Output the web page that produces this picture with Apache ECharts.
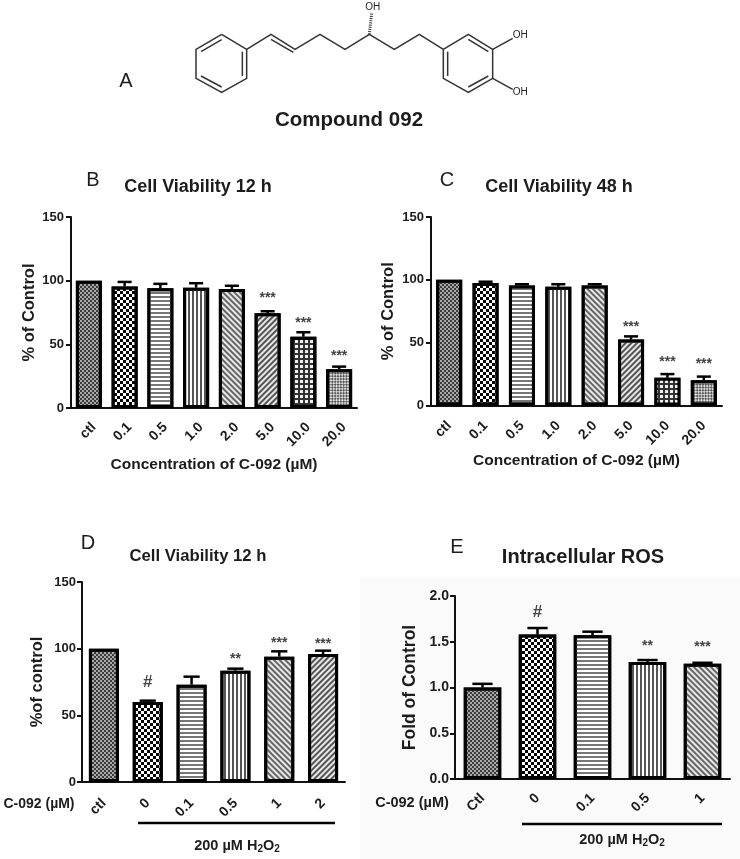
<!DOCTYPE html>
<html><head><meta charset="utf-8">
<style>html,body{margin:0;padding:0;background:#fff}#c{width:740px;height:859px;filter:blur(0.45px)}</style>
<script src="https://cdn.jsdelivr.net/npm/echarts@6/dist/echarts.min.js"></script>
</head><body><div id="c"></div>
<script>
// ---------- data ----------
const catsB = ['ctl','0.1','0.5','1.0','2.0','5.0','10.0','20.0'];
const valsB = [100,95.5,94,94.5,93.5,74.5,56,30.5];
const topsB = [100,99,97.5,98,96,76,59.5,32.5];
const sigB  = ['','','','','','***','***','***'];
const sigYB = [0,0,0,0,0,88,68.5,42.5];

const catsC = ['ctl','0.1','0.5','1.0','2.0','5.0','10.0','20.0'];
const valsC = [100,97.5,95.5,94.5,95.5,52.5,22,20];
const topsC = [100,98.5,96.5,96.5,96.5,55,25,23];
const sigC  = ['','','','','','***','***','***'];
const sigYC = [0,0,0,0,0,64,36,34.5];

const catsD = ['ctl','0','0.1','0.5','1','2'];
const valsD = [100,60,73,83.5,94,96];
const topsD = [100,61,79,85,98,98.5];
const sigD  = ['','#','','**','***','***'];
const sigYD = [0,74.5,0,94,105.5,105];

const catsE = ['Ctl','0','0.1','0.5','1'];
const valsE = [1.0,1.58,1.57,1.28,1.26];
const topsE = [1.04,1.65,1.61,1.30,1.27];
const sigE  = ['','#','','**','***'];
const sigYE = [0,1.82,0,1.47,1.46];

// ---------- patterns ----------
const FONT = '"Liberation Sans", Arial, sans-serif';
const INK = '#1c1c1c';
const patterns = {
  fine:   {color:'#3c3c3c', bg:'#a8a8a8', decal:{symbol:'rect', symbolSize:1, dashArrayX:[[2,2],[0,2,2,0]], dashArrayY:[2,0]}},
  check:  {color:'#000', bg:'#fff', decal:{symbol:'rect', symbolSize:1, dashArrayX:[[3,3],[0,3,3,0]], dashArrayY:[3,0]}},
  horiz:  {color:'#777', bg:'#fff', decal:{symbol:'rect', symbolSize:1, dashArrayX:[1,0], dashArrayY:[2,2]}},
  vert:   {color:'#555', bg:'#fff', decal:{symbol:'rect', symbolSize:1, dashArrayX:[2,2], dashArrayY:[1,0]}},
  up:     {color:'#666', bg:'#e8e8e8', decal:{symbol:'rect', symbolSize:1, dashArrayX:[1,0], dashArrayY:[1.4,1.6], rotation:Math.PI/4}},
  down:   {color:'#555', bg:'#e8e8e8', decal:{symbol:'rect', symbolSize:1, dashArrayX:[1,0], dashArrayY:[1.4,1.6], rotation:-Math.PI/4}},
  grid:   {color:'#f0f0f0', bg:'#333', decal:{symbol:'rect', symbolSize:1, dashArrayX:[2.4,1.6], dashArrayY:[2.4,1.6]}},
  dash:   {color:'#555', bg:'#e0e0e0', decal:{symbol:'rect', symbolSize:1, dashArrayX:[[2,2],[0,2,2,0]], dashArrayY:[2,0], rotation:Math.PI/4}}
};
const patB = ['fine','check','horiz','vert','up','down','grid','dash'];
const patD = ['fine','check','horiz','vert','up','down'];
const patE = ['fine','check','horiz','vert','up'];

// ---------- panels ----------
const panels = [
 {cats:catsB, vals:valsB, tops:topsB, sig:sigB, sigY:sigYB, pat:patB, left:71, top:217, w:286, h:191, max:150, step:50, barW:26, yName:'% of Control', yGap:33, xName:'Concentration of C-092 (\u00b5M)', xGap:49,
  title:'Cell Viability 12 h', tx:198, ty:187, tf:18, margin:12, vAlign:'top', ylm:7},
 {cats:catsC, vals:valsC, tops:topsC, sig:sigC, sigY:sigYC, pat:patB, left:431, top:217, w:291, h:188.5, max:150, step:50, barW:26, yName:'% of Control', yGap:34, xName:'Concentration of C-092 (\u00b5M)', xGap:47,
  title:'Cell Viability 48 h', tx:559, ty:187, tf:18, margin:18, ylm:7},
 {cats:catsD, vals:valsD, tops:topsD, sig:sigD, sigY:sigYD, pat:patD, left:82, top:582, w:263, h:200, max:150, step:50, barW:30, yName:'%of control', yGap:36, xName:'', xGap:0,
  title:'Cell Viability 12 h', tx:198, ty:556, tf:16.7, margin:19, ylm:6},
 {cats:catsE, vals:valsE, tops:topsE, sig:sigE, sigY:sigYE, pat:patE, left:455, top:596, w:275, h:183, max:2, step:0.5, barW:37.5, yName:'Fold of Control', yGap:36, xName:'', xGap:0,
  title:'Intracellular ROS', tx:583, ty:557, tf:20, margin:17, ylm:6, dec:1}
];

// ---------- molecule (zoomed reference units) ----------
const Z = p => [100 + p[0]/3, p[1]/3];
const molLines = [
 [[365,103],[440,148],[440,235],[365,277],[288,235],[288,148],[365,103]],
 [[365,119],[303,155]],[[427,155],[427,228]],[[365,261],[303,228]],
 [[440,148],[513,103],[585,148],[660,103],[735,148],[808,103],[883,148],[958,103],[1030,148]],
 [[513,118],[580,157]],
 [[1030,148],[1105,103],[1178,148],[1178,235],[1105,277],[1030,235],[1030,148]],
 [[1105,118],[1165,155]],[[1165,228],[1105,261]],[[1043,155],[1043,228]],
 [[1178,148],[1238,115]],[[1178,235],[1238,268]]
];
const molLabels = [['OH',818,22],['OH',1261,105],['OH',1261,277]];

const graphic = [];
graphic.push({type:'rect', z:-10, shape:{x:360,y:578,width:380,height:281}, style:{fill:'#fafafa'}});
molLines.forEach(l => graphic.push({type:'polyline', shape:{points:l.map(Z)}, style:{stroke:'#333', lineWidth:1.5, fill:null}}));
graphic.push({type:'line', shape:{x1:Z([808,103])[0], y1:Z([808,103])[1], x2:Z([815,38])[0], y2:Z([815,38])[1]}, style:{stroke:'#333', lineWidth:3, lineDash:[1,1.2]}});
molLabels.forEach(t => {const p=Z([t[1],t[2]]); graphic.push({type:'text', x:p[0], y:p[1], style:{text:t[0], font:'10px '+FONT, fill:'#222', textAlign:'center', textVerticalAlign:'middle'}});});

const txt = (s,x,y,size,weight,extra) => graphic.push({type:'text', x, y, style:Object.assign({text:s, fontFamily:FONT, fontSize:size, fontWeight:weight, fill:INK, align:'center', verticalAlign:'middle'}, extra||{})});
txt('A',126,81,20,'normal');
txt('B',93,180,20,'normal');
txt('C',447,180,20,'normal');
txt('D',88,543,20,'normal');
txt('E',457,547,20,'normal');
txt('Compound 092',349,120,20.5,'bold');
txt('C-092 (\u00b5M)',39,804,14,'bold');
txt('C-092 (\u00b5M)',412,803,14.5,'bold');
const sub = {s:{fontFamily:FONT,fontSize:10,fontWeight:'bold',fill:INK,padding:[6,0,0,0]}, n:{fontFamily:FONT,fontSize:14.5,fontWeight:'bold',fill:INK}};
txt('{n|200 \u00b5M H}{s|2}{n|O}{s|2}',237,846,14.5,'bold',{rich:sub});
txt('{n|200 \u00b5M H}{s|2}{n|O}{s|2}',622,840,14.5,'bold',{rich:sub});
graphic.push({type:'line', shape:{x1:138,y1:823,x2:335,y2:823}, style:{stroke:'#000',lineWidth:2.5}});
graphic.push({type:'line', shape:{x1:522,y1:824,x2:722,y2:824}, style:{stroke:'#000',lineWidth:2.5}});

const grids=[], xAxes=[], yAxes=[], series=[], titles=[];
panels.forEach((p,i)=>{
  grids.push({left:p.left, top:p.top, width:p.w, height:p.h, containLabel:false});
  titles.push({text:p.title, left:p.tx, top:p.ty, textAlign:'center', textVerticalAlign:'middle', padding:0,
    textStyle:{fontFamily:FONT, fontSize:p.tf, fontWeight:'bold', color:INK}});
  const xl={rotate:45, interval:0, margin:p.margin, fontFamily:FONT, fontSize:14, fontWeight:'bold', color:INK};
  if(p.vAlign) xl.verticalAlign=p.vAlign;
  xAxes.push({type:'category', gridIndex:i, data:p.cats, name:p.xName, nameLocation:'middle', nameGap:p.xGap,
    nameTextStyle:{fontFamily:FONT,fontSize:15.5,fontWeight:'bold',color:INK},
    axisLine:{lineStyle:{color:'#111',width:2}}, axisTick:{alignWithLabel:true,length:5,lineStyle:{color:'#111',width:2}},
    axisLabel:xl});
  yAxes.push({type:'value', gridIndex:i, min:0, max:p.max, interval:p.step, name:p.yName, nameLocation:'middle', nameGap:p.yGap, nameRotate:90,
    nameTextStyle:{fontFamily:FONT,fontSize:i===3?17.5:16.5,fontWeight:'bold',color:INK},
    splitLine:{show:false}, axisLine:{show:true,lineStyle:{color:'#111',width:2}}, axisTick:{show:true,length:5,lineStyle:{color:'#111',width:2}},
    axisLabel:{margin:p.ylm, fontFamily:FONT, fontSize:i===3?14:13, fontWeight:'bold', color:INK, formatter:v=>p.dec?v.toFixed(p.dec):String(v)}});
  series.push({type:'bar', xAxisIndex:i, yAxisIndex:i, barWidth:p.barW, animation:false, z:3,
    data:p.vals.map((v,k)=>{const s=patterns[p.pat[k]];return {value:v, itemStyle:{color:s.bg, borderColor:'#000', borderWidth:3, decal:Object.assign({color:s.color},s.decal)}};})});
  series.push({type:'custom', xAxisIndex:i, yAxisIndex:i, animation:false, z:4, clip:false,
    data:p.tops.map((t,k)=>[k,t,p.vals[k],p.sigY[k]]),
    encode:{x:0,y:1},
    renderItem:(params,api)=>{
      const k=api.value(0), a=api.coord([k,api.value(2)]), b=api.coord([k,api.value(1)]);
      const hw=p.barW*0.27, ch=[];
      if(api.value(1)>api.value(2)){
        ch.push({type:'line',shape:{x1:a[0],y1:a[1],x2:b[0],y2:b[1]},style:{stroke:'#000',lineWidth:2.5}});
        ch.push({type:'line',shape:{x1:b[0]-hw,y1:b[1],x2:b[0]+hw,y2:b[1]},style:{stroke:'#000',lineWidth:2.5}});
      }
      const s=p.sig[k];
      if(s){const q=api.coord([k,api.value(3)]);
        ch.push({type:'text',x:q[0],y:q[1]+(s==='#'?0:2),style:{text:s,fontFamily:FONT,fontSize:s==='#'?17:14,fontWeight:'bold',fill:'#444',align:'center',verticalAlign:'middle'}});}
      return {type:'group',children:ch};
    }});
});

const chart = echarts.init(document.getElementById('c'));
chart.setOption({animation:false, backgroundColor:'#fff', aria:{enabled:false}, title:titles, grid:grids, xAxis:xAxes, yAxis:yAxes, series, graphic});
</script></body></html>
